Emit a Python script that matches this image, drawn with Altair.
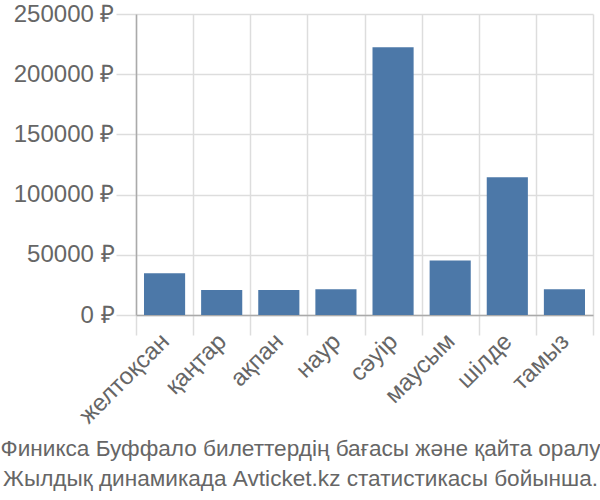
import altair as alt
import pandas as pd

months = ["желтоқсан", "қаңтар", "ақпан", "наур", "сәуір", "маусым", "шілде", "тамыз"]
prices = [34700, 20800, 20800, 21400, 222400, 45200, 114500, 21400]
y_ticks = [0, 50000, 100000, 150000, 200000, 250000]
title_lines = [
    "Финикса Буффало билеттердің бағасы және қайта оралу",
    "Жылдық динамикада Avticket.kz статистикасы бойынша.",
]

df = pd.DataFrame({"month": months, "price": prices})

chart = (
    alt.Chart(df)
    .mark_bar(color="#4c78a8", width=alt.RelativeBandSize(0.72))
    .encode(
        x=alt.X(
            "month:N",
            sort=months,
            scale=alt.Scale(paddingInner=0, paddingOuter=0),
            axis=alt.Axis(
                title=None,
                labelAngle=-45,
                labelFontSize=24,
                labelColor="#666666",
                labelFont="Liberation Sans",
                tickBand="extent",
                grid=True,
                tickSize=20,
                tickColor="#dddddd",
                tickWidth=1.5,
                gridColor="#dddddd",
                gridWidth=1.5,
                domainColor="#aaaaaa",
                domainWidth=1.5,
                labelPadding=-6,
                labelOffset=-8,
            ),
        ),
        y=alt.Y(
            "price:Q",
            scale=alt.Scale(domain=[0, 250000]),
            axis=alt.Axis(
                title=None,
                values=y_ticks,
                labelExpr="datum.value + ' ₽'",
                labelFontSize=24,
                labelColor="#666666",
                labelFont="Liberation Sans",
                tickSize=20,
                tickColor="#dddddd",
                tickWidth=1.5,
                gridColor="#dddddd",
                gridWidth=1.5,
                domainColor="#aaaaaa",
                domainWidth=1.5,
                labelPadding=2,
            ),
        ),
    )
    .properties(
        width=457,
        height=301,
        autosize=alt.AutoSizeParams(type="none"),
        padding={"left": 136, "top": 14, "right": 7, "bottom": 185},
        title=alt.TitleParams(
            text=title_lines,
            orient="bottom",
            anchor="middle",
            dx=-64,
            fontSize=22.6,
            font="Liberation Sans",
            fontWeight="normal",
            color="#666666",
            lineHeight=30,
            offset=10,
        ),
    )
    .configure_view(stroke=None)
)

chart.save("out.html", embed_options={"renderer": "svg", "actions": False})
